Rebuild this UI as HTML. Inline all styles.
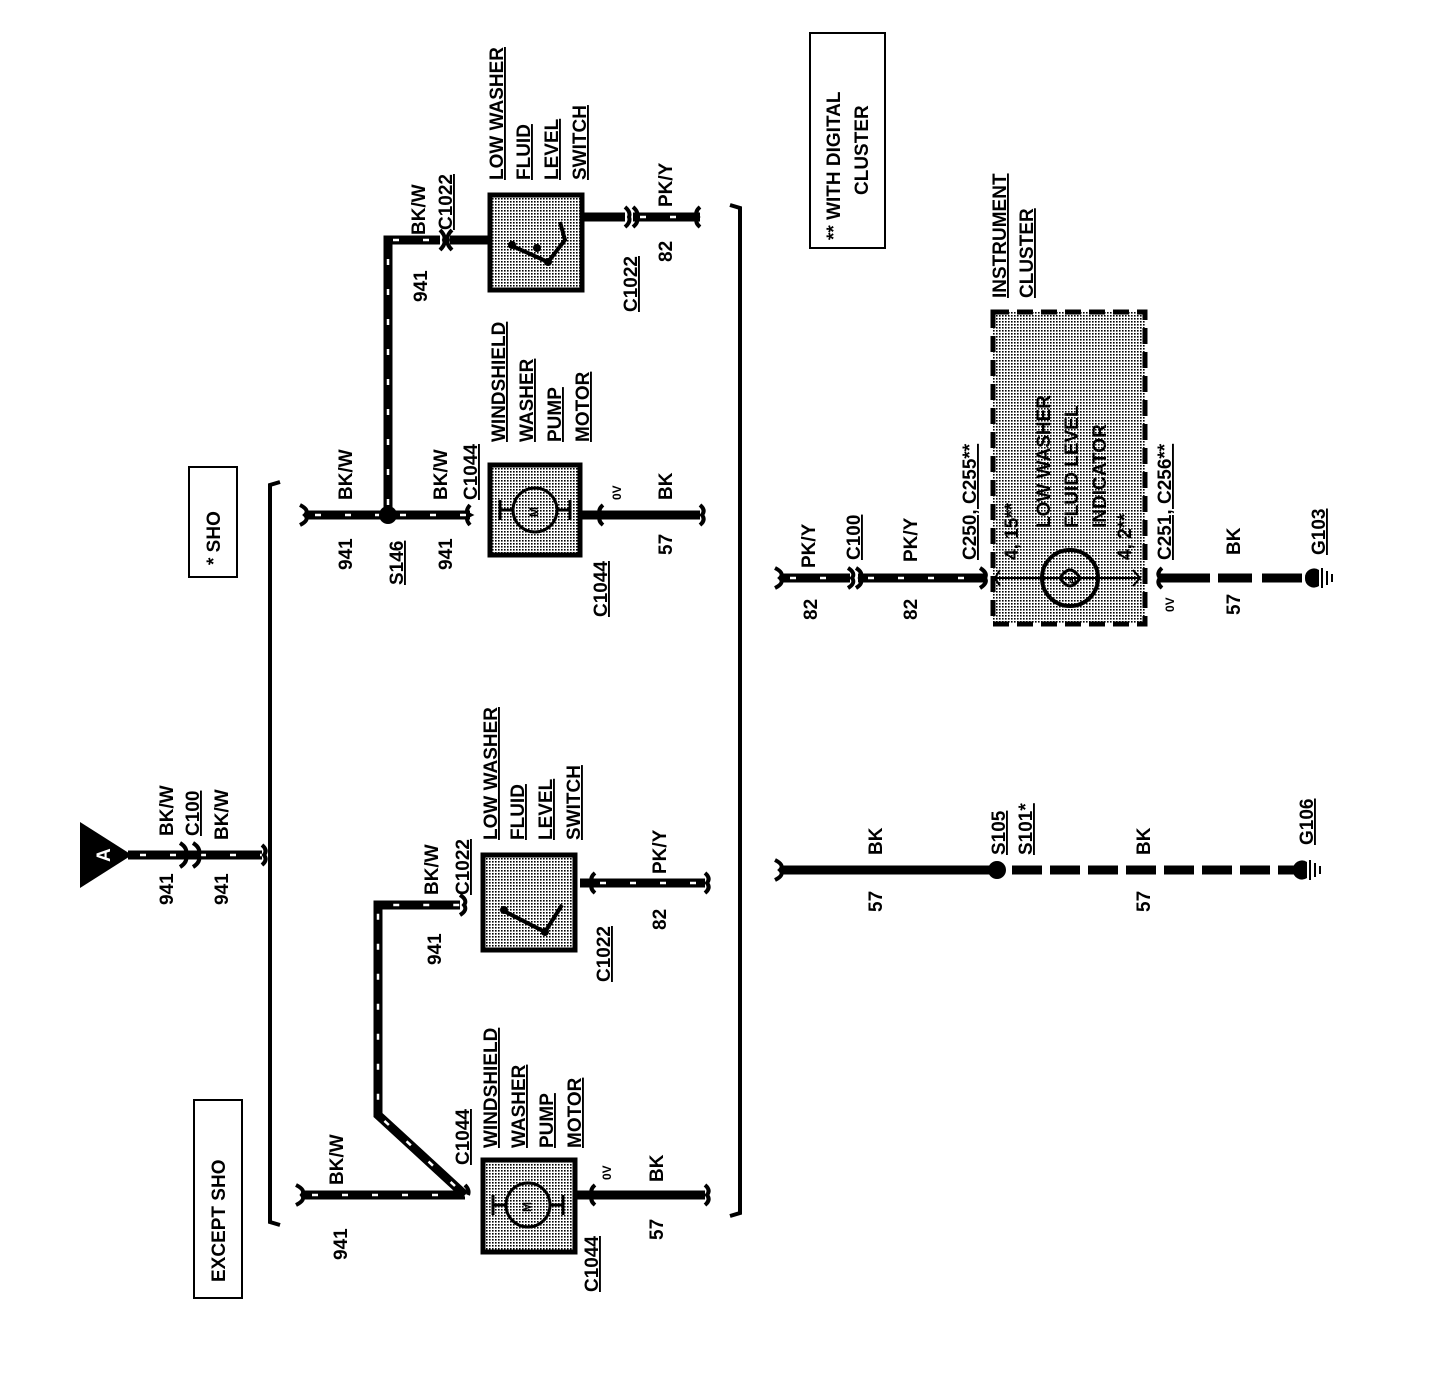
<!DOCTYPE html>
<html><head><meta charset="utf-8"><style>
html,body{margin:0;padding:0;background:#fff}
svg{display:block}
text{font-family:"Liberation Sans",Arial,sans-serif;font-weight:bold;font-size:19px;fill:#000}
.u{text-decoration:underline}
.s{font-size:12px}
</style></head><body>
<svg width="1440" height="1384" viewBox="0 0 1440 1384" xmlns="http://www.w3.org/2000/svg">
<defs>
<pattern id="st" width="3" height="3" patternUnits="userSpaceOnUse"><rect width="3" height="3" fill="#fff"/><rect width="1.6" height="1.6" fill="#000"/></pattern>
</defs>
<g fill="none" stroke="#000" stroke-linecap="butt">
<path d="M280 482 L270 485 L270 1222 L280 1225" stroke-width="4"/>
<path d="M730 205 L740 208 L740 1213 L730 1216" stroke-width="4"/>
<rect x="189" y="467" width="48" height="110" stroke-width="2"/>
<rect x="194" y="1100" width="48" height="198" stroke-width="2"/>
<rect x="810" y="33" width="75" height="215" stroke-width="2"/>

<line x1="128" y1="855" x2="262" y2="855" stroke-width="9"/>
<line x1="140" y1="855" x2="262" y2="855" stroke="#fff" stroke-width="2.5" stroke-dasharray="6 24"/>

<line x1="305" y1="515" x2="385" y2="515" stroke-width="9"/>
<line x1="315" y1="515" x2="385" y2="515" stroke="#fff" stroke-width="2.5" stroke-dasharray="6 24"/>
<line x1="392" y1="515" x2="470" y2="515" stroke-width="9"/>
<line x1="400" y1="515" x2="470" y2="515" stroke="#fff" stroke-width="2.5" stroke-dasharray="6 24"/>
<path d="M388 515 L388 240 L440 240" stroke-width="9"/>
<path d="M388 505 L388 240 L440 240" stroke="#fff" stroke-width="2.5" stroke-dasharray="6 24"/>
<line x1="450" y1="240" x2="490" y2="240" stroke-width="9"/>
<line x1="582" y1="217" x2="625" y2="217" stroke-width="9"/>
<line x1="633" y1="217" x2="700" y2="217" stroke-width="9"/>
<line x1="640" y1="217" x2="700" y2="217" stroke="#fff" stroke-width="2.5" stroke-dasharray="6 24"/>
<line x1="580" y1="515" x2="700" y2="515" stroke-width="9"/>
<rect x="490" y="195" width="92" height="95" fill="url(#st)" stroke-width="5"/>
<rect x="490" y="465" width="90" height="90" fill="url(#st)" stroke-width="5"/>

<line x1="302" y1="1195" x2="465" y2="1195" stroke-width="9"/>
<line x1="312" y1="1195" x2="465" y2="1195" stroke="#fff" stroke-width="2.5" stroke-dasharray="6 24"/>
<path d="M465 1195 L378 1115 L378 905 L460 905" stroke-width="9"/>
<path d="M455 1186 L378 1115 L378 905 L460 905" stroke="#fff" stroke-width="2.5" stroke-dasharray="6 24"/>
<line x1="580" y1="883" x2="705" y2="883" stroke-width="9"/>
<line x1="600" y1="883" x2="705" y2="883" stroke="#fff" stroke-width="2.5" stroke-dasharray="6 24"/>
<line x1="575" y1="1195" x2="705" y2="1195" stroke-width="9"/>
<rect x="483" y="855" width="92" height="95" fill="url(#st)" stroke-width="5"/>
<rect x="483" y="1160" width="92" height="92" fill="url(#st)" stroke-width="5"/>

<line x1="780" y1="578" x2="850" y2="578" stroke-width="9"/>
<line x1="790" y1="578" x2="850" y2="578" stroke="#fff" stroke-width="2.5" stroke-dasharray="6 24"/>
<line x1="858" y1="578" x2="985" y2="578" stroke-width="9"/>
<line x1="868" y1="578" x2="985" y2="578" stroke="#fff" stroke-width="2.5" stroke-dasharray="6 24"/>
<rect x="993" y="312" width="152" height="312" fill="url(#st)" stroke-width="5" stroke-dasharray="16 8"/>
<line x1="995" y1="578" x2="1140" y2="578" stroke-width="2"/>
<circle cx="1070" cy="578" r="28" stroke-width="4"/>
<path d="M1060 578 Q1070 562 1080 578 Q1070 594 1060 578" stroke-width="3"/>
<path d="M1000 570 L995 578 L1000 586 M1133 570 L1140 578 L1133 586" stroke-width="2"/>
<line x1="1160" y1="578" x2="1210" y2="578" stroke-width="9"/>
<line x1="1218" y1="578" x2="1252" y2="578" stroke-width="9"/>
<line x1="1262" y1="578" x2="1302" y2="578" stroke-width="9"/>
<line x1="780" y1="870" x2="990" y2="870" stroke-width="9"/>
<line x1="1012" y1="870" x2="1298" y2="870" stroke-width="9" stroke-dasharray="30 8"/>

<g stroke-width="4">
<path d="M180 843 Q188 848 186 855 Q188 862 180 867 M193 843 Q201 848 199 855 Q201 862 193 867"/>
<path d="M262 845 Q268 850 264 855 Q268 860 262 865"/>
<path d="M300 505 Q310 510 305 515 Q310 520 300 525"/>
<path d="M470 505 Q464 512 470 515 Q464 518 470 525"/>
<path d="M440 230 Q446 236 444 240 Q446 244 440 250 M452 230 Q446 236 448 240 Q446 244 452 250"/>
<path d="M625 207 Q631 212 629 217 Q631 222 625 227 M633 207 Q639 212 637 217 Q639 222 633 227"/>
<path d="M700 207 Q694 212 698 217 Q694 222 700 227"/>
<path d="M603 505 Q597 510 601 515 Q597 520 603 525 M700 505 Q706 510 702 515 Q706 520 700 525"/>
<path d="M296 1185 Q306 1190 302 1195 Q306 1200 296 1205"/>
<path d="M460 895 Q468 900 464 905 Q468 910 460 915"/>
<path d="M465 1185 Q470 1190 468 1195"/>
<path d="M595 873 Q589 878 593 883 Q589 888 595 893 M705 873 Q711 878 707 883 Q711 888 705 893"/>
<path d="M595 1185 Q589 1190 593 1195 Q589 1200 595 1205 M705 1185 Q711 1190 707 1195 Q711 1200 705 1205"/>
<path d="M775 568 Q785 573 780 578 Q785 583 775 588 M848 568 Q856 573 852 578 Q856 583 848 588 M856 568 Q864 573 860 578 Q864 583 856 588"/>
<path d="M980 568 Q988 573 985 578 Q988 583 980 588"/>
<path d="M1162 568 Q1156 573 1160 578 Q1156 583 1162 588"/>
<path d="M775 860 Q785 865 780 870 Q785 875 775 880"/>
</g>
<circle cx="535" cy="510" r="22" stroke-width="3"/>
<circle cx="528" cy="1205" r="22" stroke-width="3"/>
<path d="M500 510 L513 510 M557 510 L570 510 M500 500 L500 520 M570 500 L570 520" stroke-width="3"/>
<path d="M493 1205 L506 1205 M550 1205 L563 1205 M493 1195 L493 1215 M563 1195 L563 1215" stroke-width="3"/>
<path d="M510 245 L548 262 L565 240 L560 222" stroke-width="4"/>
<path d="M502 910 L545 932 L562 905" stroke-width="4"/>
<path d="M1322 568 L1322 588 M1327 571 L1327 585 M1332 574 L1332 582" stroke-width="2"/>
<path d="M1310 860 L1310 880 M1315 863 L1315 877 M1320 866 L1320 874" stroke-width="2"/>
</g>
<g fill="#000">
<polygon points="80,822 80,888 132,855"/>
<circle cx="388" cy="515" r="9"/>
<circle cx="997" cy="870" r="9"/>
<circle cx="537" cy="248" r="4"/><circle cx="548" cy="262" r="4"/><circle cx="512" cy="245" r="4"/>
<circle cx="545" cy="932" r="4"/><circle cx="504" cy="910" r="4"/>
<path d="M1305 578 a9 9 0 0 1 14 -8 v16 a9 9 0 0 1 -14 -8z"/>
<path d="M1293 870 a9 9 0 0 1 14 -8 v16 a9 9 0 0 1 -14 -8z"/>
</g>
<text transform="translate(110,862) rotate(-90)" style="fill:#fff" font-size="16">A</text>
<text transform="translate(538,517) rotate(-90)" class="s">M</text>
<text transform="translate(531,1212) rotate(-90)" class="s">M</text>
<text transform="translate(1076,584) rotate(-90)" class="s">e</text>

<g>
<text transform="translate(173,905) rotate(-90)">941</text>
<text transform="translate(173,836) rotate(-90)">BK/W</text>
<text transform="translate(199,836) rotate(-90)" class="u">C100</text>
<text transform="translate(228,905) rotate(-90)">941</text>
<text transform="translate(228,840) rotate(-90)">BK/W</text>
<text transform="translate(220,565) rotate(-90)">* SHO</text>
<text transform="translate(225,1282) rotate(-90)">EXCEPT SHO</text>
<text transform="translate(840,240) rotate(-90)">** WITH DIGITAL</text>
<text transform="translate(868,195) rotate(-90)">CLUSTER</text>

<text transform="translate(352,570) rotate(-90)">941</text>
<text transform="translate(352,500) rotate(-90)">BK/W</text>
<text transform="translate(403,585) rotate(-90)" class="u">S146</text>
<text transform="translate(452,570) rotate(-90)">941</text>
<text transform="translate(447,500) rotate(-90)">BK/W</text>
<text transform="translate(477,500) rotate(-90)" class="u">C1044</text>
<text transform="translate(505,442) rotate(-90)" class="u">WINDSHIELD</text>
<text transform="translate(533,442) rotate(-90)" class="u">WASHER</text>
<text transform="translate(561,442) rotate(-90)" class="u">PUMP</text>
<text transform="translate(589,442) rotate(-90)" class="u">MOTOR</text>
<text transform="translate(607,617) rotate(-90)" class="u">C1044</text>
<text transform="translate(621,500) rotate(-90)" class="s">0V</text>
<text transform="translate(672,500) rotate(-90)">BK</text>
<text transform="translate(672,555) rotate(-90)">57</text>
<text transform="translate(427,302) rotate(-90)">941</text>
<text transform="translate(425,235) rotate(-90)">BK/W</text>
<text transform="translate(452,230) rotate(-90)" class="u">C1022</text>
<text transform="translate(503,180) rotate(-90)" class="u">LOW WASHER</text>
<text transform="translate(530,180) rotate(-90)" class="u">FLUID</text>
<text transform="translate(558,180) rotate(-90)" class="u">LEVEL</text>
<text transform="translate(586,180) rotate(-90)" class="u">SWITCH</text>
<text transform="translate(637,312) rotate(-90)" class="u">C1022</text>
<text transform="translate(672,262) rotate(-90)">82</text>
<text transform="translate(672,207) rotate(-90)">PK/Y</text>

<text transform="translate(347,1260) rotate(-90)">941</text>
<text transform="translate(343,1185) rotate(-90)">BK/W</text>
<text transform="translate(441,965) rotate(-90)">941</text>
<text transform="translate(438,895) rotate(-90)">BK/W</text>
<text transform="translate(469,895) rotate(-90)" class="u">C1022</text>
<text transform="translate(497,840) rotate(-90)" class="u">LOW WASHER</text>
<text transform="translate(524,840) rotate(-90)" class="u">FLUID</text>
<text transform="translate(552,840) rotate(-90)" class="u">LEVEL</text>
<text transform="translate(580,840) rotate(-90)" class="u">SWITCH</text>
<text transform="translate(610,982) rotate(-90)" class="u">C1022</text>
<text transform="translate(666,930) rotate(-90)">82</text>
<text transform="translate(666,874) rotate(-90)">PK/Y</text>
<text transform="translate(469,1165) rotate(-90)" class="u">C1044</text>
<text transform="translate(497,1148) rotate(-90)" class="u">WINDSHIELD</text>
<text transform="translate(525,1148) rotate(-90)" class="u">WASHER</text>
<text transform="translate(553,1148) rotate(-90)" class="u">PUMP</text>
<text transform="translate(581,1148) rotate(-90)" class="u">MOTOR</text>
<text transform="translate(611,1180) rotate(-90)" class="s">0V</text>
<text transform="translate(663,1182) rotate(-90)">BK</text>
<text transform="translate(663,1240) rotate(-90)">57</text>
<text transform="translate(598,1292) rotate(-90)" class="u">C1044</text>

<text transform="translate(1006,298) rotate(-90)" class="u">INSTRUMENT</text>
<text transform="translate(1033,298) rotate(-90)" class="u">CLUSTER</text>
<text transform="translate(817,620) rotate(-90)">82</text>
<text transform="translate(815,568) rotate(-90)">PK/Y</text>
<text transform="translate(860,560) rotate(-90)" class="u">C100</text>
<text transform="translate(917,620) rotate(-90)">82</text>
<text transform="translate(917,562) rotate(-90)">PK/Y</text>
<text transform="translate(976,560) rotate(-90)" class="u">C250, C255**</text>
<text transform="translate(1018,560) rotate(-90)" font-size="13">4, 15**</text>
<text transform="translate(1050,528) rotate(-90)">LOW WASHER</text>
<text transform="translate(1078,528) rotate(-90)">FLUID LEVEL</text>
<text transform="translate(1106,528) rotate(-90)">INDICATOR</text>
<text transform="translate(1131,560) rotate(-90)" font-size="13">4, 2**</text>
<text transform="translate(1171,560) rotate(-90)" class="u">C251, C256**</text>
<text transform="translate(1174,612) rotate(-90)" class="s">0V</text>
<text transform="translate(1240,555) rotate(-90)">BK</text>
<text transform="translate(1240,615) rotate(-90)">57</text>
<text transform="translate(1325,555) rotate(-90)" class="u">G103</text>
<text transform="translate(882,855) rotate(-90)">BK</text>
<text transform="translate(882,912) rotate(-90)">57</text>
<text transform="translate(1005,855) rotate(-90)" class="u">S105</text>
<text transform="translate(1032,855) rotate(-90)" class="u">S101*</text>
<text transform="translate(1150,855) rotate(-90)">BK</text>
<text transform="translate(1150,912) rotate(-90)">57</text>
<text transform="translate(1313,845) rotate(-90)" class="u">G106</text>
</g>
</svg>
</body></html>
